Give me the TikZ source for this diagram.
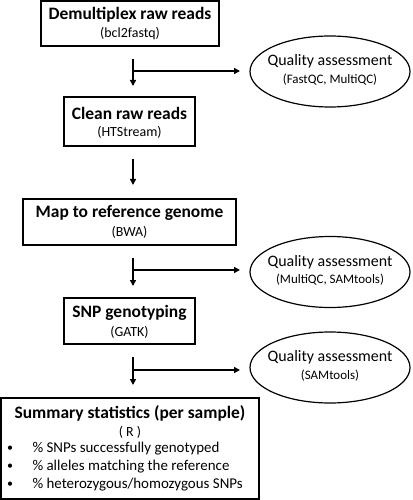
\documentclass[tikz,border=0pt]{standalone}
\usepackage{fontspec}
\setmainfont{Carlito}
\usetikzlibrary{arrows.meta,shapes.geometric}
\begin{document}
\begin{tikzpicture}[x=1bp,y=-1bp,
  box/.style={draw, line width=1.2bp, inner sep=0pt, align=center},
  oval/.style={draw, ellipse, line width=1.2bp, inner sep=0pt, minimum width=160bp, minimum height=71bp},
  flow/.style={line width=1.4bp, -{Triangle[length=6bp,width=6bp]}},
  ttl/.style={font=\fontsize{17.5}{20}\selectfont\bfseries},
  subt/.style={font=\fontsize{14}{16}\selectfont},
  qsub/.style={font=\fontsize{13}{15}\selectfont},
  qa/.style={font=\fontsize{16}{18}\selectfont},
  item/.style={font=\fontsize{15}{17}\selectfont, anchor=west}]
\useasboundingbox (0,0) rectangle (412,500);
% boxes
\node[box, minimum width=178bp, minimum height=45bp] (b1) at (130,23.5) {};
\node[ttl] (b1t) at (130,15) {Demultiplex raw reads};
\node[subt] (b1s) at (130,34) {(bcl2fastq)};
\node[box, minimum width=131bp, minimum height=49bp] (b2) at (129.5,121.5) {};
\node[ttl] (b2t) at (129.5,113) {Clean raw reads};
\node[subt] (b2s) at (129.5,132) {(HTStream)};
\node[box, minimum width=213bp, minimum height=46bp] (b3) at (129.5,222) {};
\node[ttl] (b3t) at (129.5,213) {Map to reference genome};
\node[subt] (b3s) at (129.5,232) {(BWA)};
\node[box, minimum width=131bp, minimum height=46bp] (b4) at (129.5,321) {};
\node[ttl] (b4t) at (129.5,313) {SNP genotyping};
\node[subt] (b4s) at (129.5,332) {(GATK)};
\node[box, minimum width=258bp, minimum height=101bp] (b5) at (130,448.5) {};
\node[ttl] (b5t) at (130,413) {Summary statistics (per sample)};
\node[subt] (b5s) at (130,432) {( R )};
\foreach \yy/\tx [count=\i] in {449/{\% SNPs successfully genotyped},467/{\% alleles matching the reference},485/{\% heterozygous/homozygous SNPs}}{
  \node[font=\fontsize{12}{14}\selectfont] (bul\i) at (10,\yy) {•};
  \node[item] (it\i) at (29,\yy) {\tx};
}
% ellipses
\node[oval] (e1) at (330,71.5) {};
\node[qa] (e1t) at (330,61.5) {Quality assessment};
\node[qsub] (e1s) at (330,79.5) {(FastQC, MultiQC)};
\node[oval] (e2) at (330,272) {};
\node[qa] (e2t) at (330,262) {Quality assessment};
\node[qsub] (e2s) at (330,280) {(MultiQC, SAMtools)};
\node[oval] (e3) at (330,367.5) {};
\node[qa] (e3t) at (330,357.5) {Quality assessment};
\node[qsub] (e3s) at (330,375.5) {(SAMtools)};
% arrows
\coordinate (a1s) at (133,59); \coordinate (a1e) at (133,86); \coordinate (a1b) at (133,71); \coordinate (a1q) at (240,71);
\coordinate (a2s) at (133,159); \coordinate (a2e) at (133,185);
\coordinate (a3s) at (133,258); \coordinate (a3e) at (133,286); \coordinate (a3b) at (133,270); \coordinate (a3q) at (240,270);
\coordinate (a4s) at (133,357); \coordinate (a4e) at (133,385); \coordinate (a4b) at (133,370); \coordinate (a4q) at (240,370);
\draw[flow] (a1s) -- (a1e);
\draw[flow] (a1b) -- (a1q);
\draw[flow] (a2s) -- (a2e);
\draw[flow] (a3s) -- (a3e);
\draw[flow] (a3b) -- (a3q);
\draw[flow] (a4s) -- (a4e);
\draw[flow] (a4b) -- (a4q);
\end{tikzpicture}
\end{document}
